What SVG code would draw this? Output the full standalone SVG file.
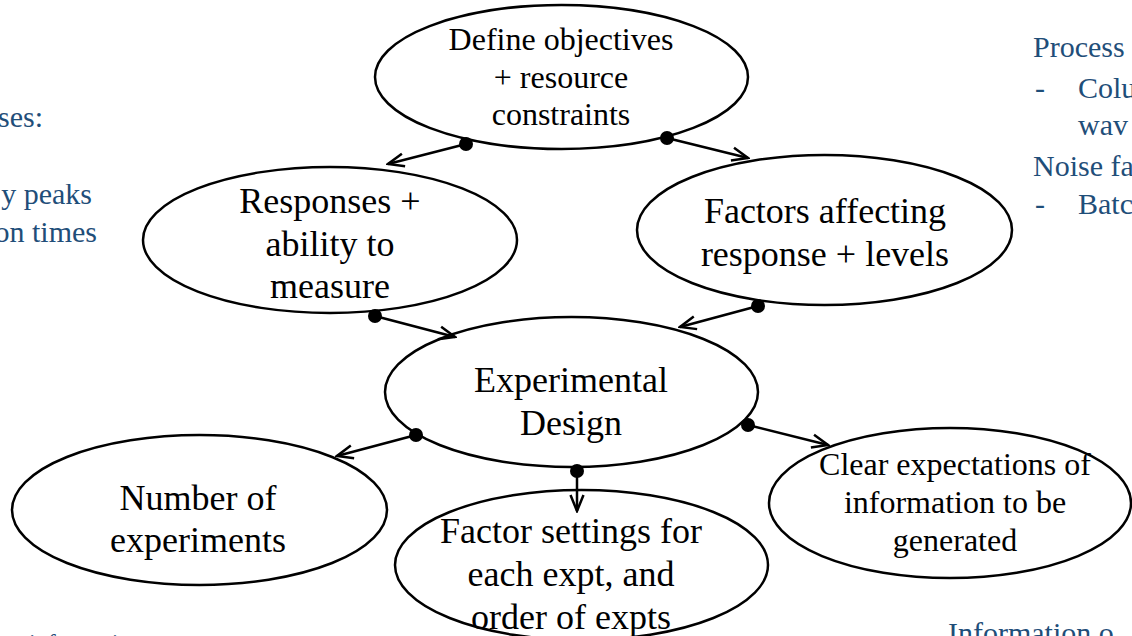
<svg xmlns="http://www.w3.org/2000/svg" width="1132" height="636" viewBox="0 0 1132 636">
<defs>
<style>
.node ellipse{fill:#fff;stroke:#000;stroke-width:2.5}
.node text{font-family:"Liberation Serif","Times New Roman",serif;fill:#000;text-anchor:middle}
.s32{font-size:32px}
.s36{font-size:36px}
.note{font-family:"Liberation Serif","Times New Roman",serif;font-size:30px;fill:#1F4E79}
.conn line{stroke:#000;stroke-width:2.5;marker-end:url(#arr)}
.conn circle{fill:#000}
</style>
<marker id="arr" markerUnits="userSpaceOnUse" viewBox="0 0 20 16" markerWidth="20" markerHeight="16" refX="18" refY="8" orient="auto">
<path d="M2,1.5 L18,8 L2,14.5" fill="none" stroke="#000" stroke-width="2.5"/>
</marker>
</defs>
<rect width="1132" height="636" fill="#fff"/>

<g id="notes">
<text class="note" x="43" y="127" text-anchor="end">ses:</text>
<text class="note" x="92" y="204" text-anchor="end">y peaks</text>
<text class="note" x="97" y="242" text-anchor="end">on times</text>
<text class="note" x="1033" y="57">Process</text>
<text class="note" x="1035" y="98">-</text>
<text class="note" x="1078" y="98">Colu</text>
<text class="note" x="1078" y="135">wav</text>
<text class="note" x="1033" y="176">Noise fa</text>
<text class="note" x="1035" y="214">-</text>
<text class="note" x="1078" y="214">Batc</text>
<text class="note" x="948" y="643">Information o</text>
<text class="note" x="29" y="650" style="font-size:24px">information</text>
</g>

<g id="define" class="node">
<ellipse cx="561.5" cy="77" rx="186.5" ry="72"/>
<text class="s32" x="561" y="50">Define objectives</text>
<text class="s32" x="561" y="88">+ resource</text>
<text class="s32" x="561" y="125">constraints</text>
</g>

<g id="responses" class="node">
<ellipse cx="330" cy="240" rx="187" ry="73"/>
<text class="s36" x="330" y="213">Responses +</text>
<text class="s36" x="330" y="256">ability to</text>
<text class="s36" x="330" y="298">measure</text>
</g>

<g id="factors" class="node">
<ellipse cx="824.5" cy="230" rx="187.5" ry="75"/>
<text class="s36" x="825" y="223">Factors affecting</text>
<text class="s36" x="825" y="266">response + levels</text>
</g>

<g id="design" class="node">
<ellipse cx="571.5" cy="392" rx="186.5" ry="75"/>
<text class="s36" x="571" y="392">Experimental</text>
<text class="s36" x="571" y="435">Design</text>
</g>

<g id="number" class="node">
<ellipse cx="199.5" cy="510" rx="187.5" ry="75"/>
<text class="s36" x="198" y="510">Number of</text>
<text class="s36" x="198" y="552">experiments</text>
</g>

<g id="settings" class="node">
<ellipse cx="581.5" cy="565" rx="186.5" ry="75"/>
<text class="s36" x="571" y="543">Factor settings for</text>
<text class="s36" x="571" y="586">each expt, and</text>
<text class="s36" x="571" y="629">order of expts</text>
</g>

<g id="clear" class="node">
<ellipse cx="950" cy="503" rx="181" ry="75"/>
<text class="s32" x="955" y="475">Clear expectations of</text>
<text class="s32" x="955" y="513">information to be</text>
<text class="s32" x="955" y="551">generated</text>
</g>

<g id="connectors" class="conn">
<line x1="466" y1="144" x2="388" y2="164"/>
<line x1="667" y1="138" x2="748" y2="158"/>
<line x1="375" y1="316" x2="455" y2="337"/>
<line x1="758" y1="306" x2="680" y2="327"/>
<line x1="416" y1="435" x2="337" y2="456"/>
<line x1="577" y1="471" x2="577" y2="511"/>
<line x1="748" y1="425" x2="828" y2="445"/>
<circle cx="466" cy="144" r="7"/>
<circle cx="667" cy="138" r="7"/>
<circle cx="375" cy="316" r="7"/>
<circle cx="758" cy="306" r="7"/>
<circle cx="416" cy="435" r="7"/>
<circle cx="577" cy="471" r="7"/>
<circle cx="748" cy="425" r="7"/>
</g>
</svg>
